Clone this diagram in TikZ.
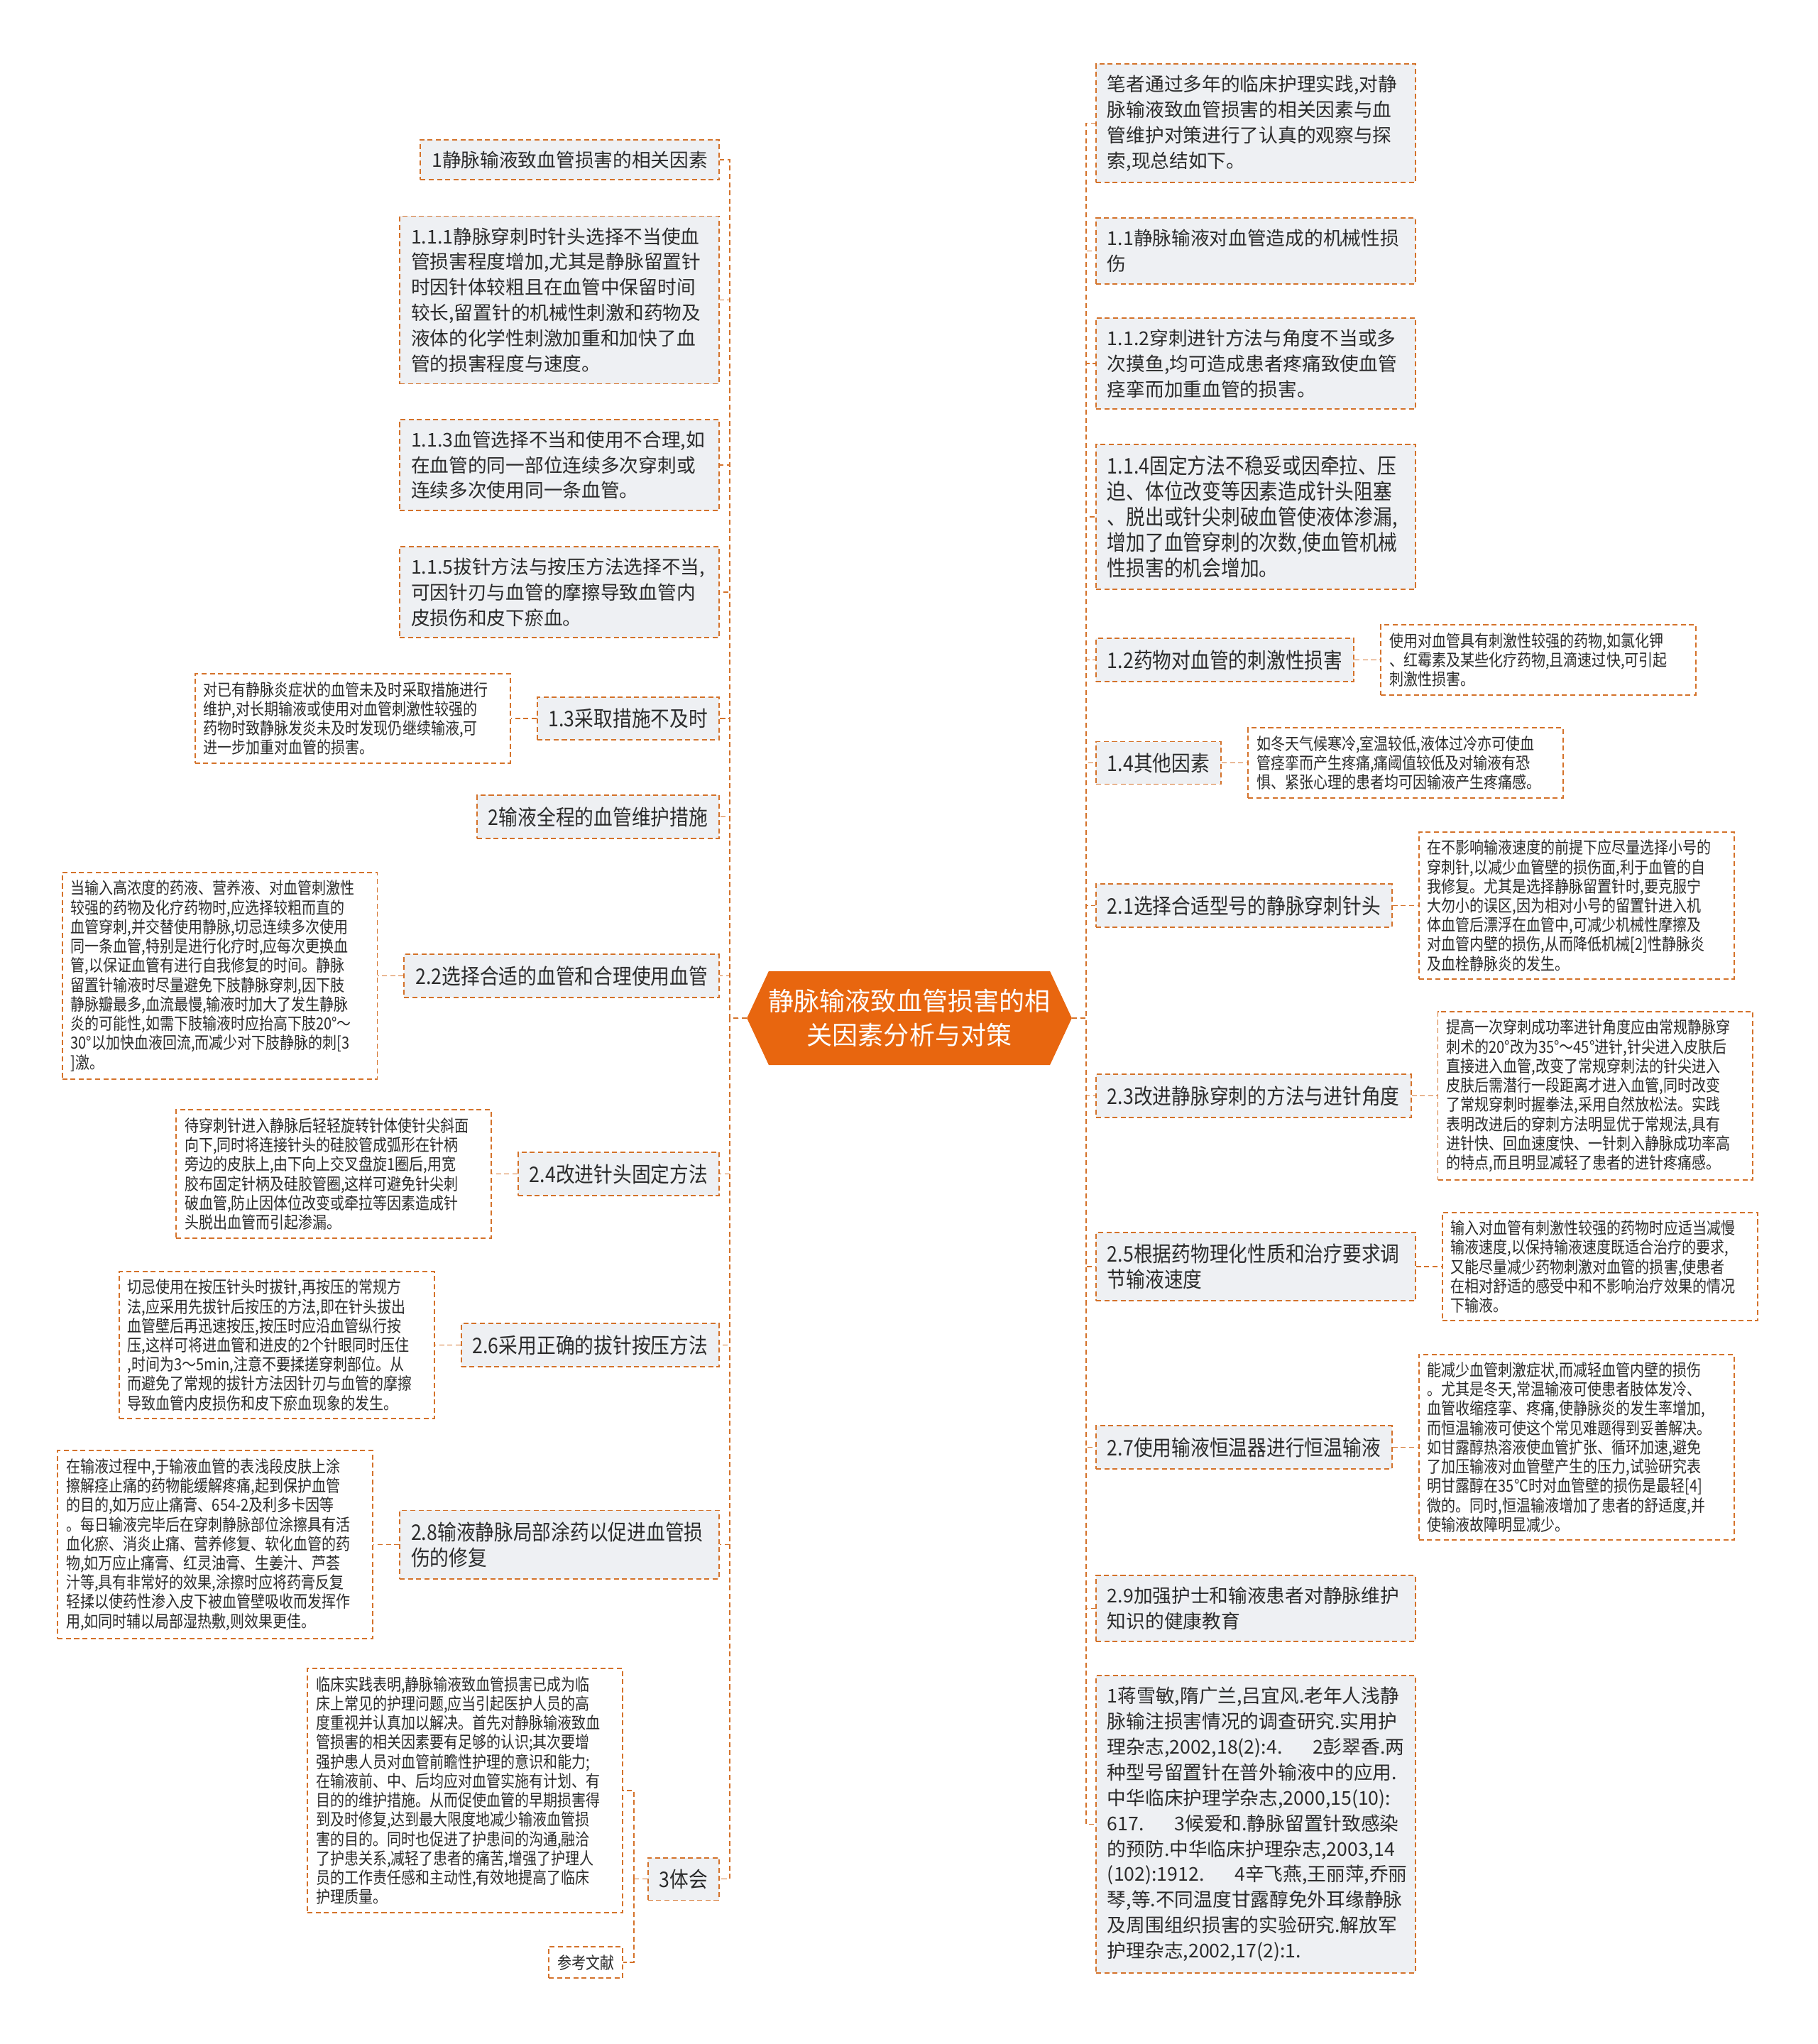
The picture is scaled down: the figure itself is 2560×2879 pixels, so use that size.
\documentclass[tikz,border=0pt]{standalone}
\usepackage{fontspec}
\setmainfont{Noto Sans CJK SC}
\newfontfamily\cjkn{Noto Sans CJK SC}
\newfontfamily\cjkc[FakeStretch=0.88]{Noto Sans CJK SC}
\newfontfamily\cjkp[FakeStretch=0.85]{Noto Sans CJK SC}
\usepackage{tikz}
\usetikzlibrary{positioning,shapes.symbols}

\definecolor{bordo}{HTML}{D4722A}
\definecolor{grigio}{HTML}{EEF0F3}
\definecolor{arancio}{HTML}{E8660F}
\definecolor{testo}{HTML}{2B2B2B}

\begin{document}
\begin{tikzpicture}[
                x=0.02cm, y=-0.02cm,
                % Stile comune dei riquadri tratteggiati
                riquadro/.style={
                    draw=bordo,
                    line width=1.1pt,
                    dash pattern=on 4pt off 2.6pt,
                    text=testo,
                    inner xsep=0.32cm,
                    inner ysep=0.32cm,
                    align=left
                },
                % Riquadri grigi dei rami principali
                nodo/.style={riquadro, fill=grigio, font=\cjkn\fontsize{15.2pt}{20.4pt}\selectfont},
                nodostretto/.style={riquadro, fill=grigio, font=\cjkc\fontsize{17.3pt}{20.4pt}\selectfont},
                largo/.style={text width=8.36cm},
                % Note bianche con testo piccolo
                nota/.style={
                    riquadro,
                    fill=white,
                    inner xsep=0.24cm,
                    inner ysep=0.22cm,
                    text width=8.4cm,
                    font=\cjkp\fontsize{13.4pt}{15.5pt}\selectfont
                },
                % Blocco centrale arancione
                centro/.style={
                    signal,
                    signal to=west and east,
                    signal pointer angle=130,
                    fill=arancio,
                    text=white,
                    align=center,
                    inner xsep=0pt,
                    minimum width=8.6cm,
                    minimum height=2.64cm,
                    font=\cjkn\fontsize{20.5pt}{27.3pt}\selectfont
                },
                % Collegamenti tratteggiati
                ramo/.style={draw=bordo, line width=1.1pt, dash pattern=on 4pt off 2.6pt}
            ]

                \path[use as bounding box, fill=white] (0,0) rectangle (2560,2879);

                % 1. Nodo centrale
                \node [centro] (ctr) at (1281,1434) {静脉输液致血管损害的相\\关因素分析与对策};

                % 2. Rami di sinistra
                \node [nodo, anchor=east] (L1) at (1014,225) {1静脉输液致血管损害的相关因素};
                \node [nodo, largo, anchor=east] (L111) at (1014,422.5) {1.1.1静脉穿刺时针头选择不当使血\\管损害程度增加,尤其是静脉留置针\\时因针体较粗且在血管中保留时间\\较长,留置针的机械性刺激和药物及\\液体的化学性刺激加重和加快了血\\管的损害程度与速度。};
                \node [nodo, largo, anchor=east] (L113) at (1014,655) {1.1.3血管选择不当和使用不合理,如\\在血管的同一部位连续多次穿刺或\\连续多次使用同一条血管。};
                \node [nodo, largo, anchor=east] (L115) at (1014,834) {1.1.5拔针方法与按压方法选择不当,\\可因针刃与血管的摩擦导致血管内\\皮损伤和皮下瘀血。};
                \node [nodostretto, anchor=east] (L13) at (1014,1012) {1.3采取措施不及时};
                \node [nodostretto, anchor=east] (L2) at (1014,1150.5) {2输液全程的血管维护措施};
                \node [nodostretto, anchor=east] (L22) at (1014,1374.5) {2.2选择合适的血管和合理使用血管};
                \node [nodostretto, anchor=east] (L24) at (1014,1653.5) {2.4改进针头固定方法};
                \node [nodostretto, anchor=east] (L26) at (1014,1894.5) {2.6采用正确的拔针按压方法};
                \node [nodostretto, largo, anchor=east] (L28) at (1014,2175.5) {2.8输液静脉局部涂药以促进血管损\\伤的修复};
                \node [nodostretto, anchor=east] (L3) at (1014,2646.5) {3体会};

                % 3. Note di sinistra
                \node [nota, left=0.72cm of L13] (S13) {对已有静脉炎症状的血管未及时采取措施进行\\维护,对长期输液或使用对血管刺激性较强的\\药物时致静脉发炎未及时发现仍继续输液,可\\进一步加重对血管的损害。};
                \node [nota, left=0.72cm of L22] (S22) {当输入高浓度的药液、营养液、对血管刺激性\\较强的药物及化疗药物时,应选择较粗而直的\\血管穿刺,并交替使用静脉,切忌连续多次使用\\同一条血管,特别是进行化疗时,应每次更换血\\管,以保证血管有进行自我修复的时间。静脉\\留置针输液时尽量避免下肢静脉穿刺,因下肢\\静脉瓣最多,血流最慢,输液时加大了发生静脉\\炎的可能性,如需下肢输液时应抬高下肢20°～\\30°以加快血液回流,而减少对下肢静脉的刺[3\\]激。};
                \node [nota, left=0.72cm of L24] (S24) {待穿刺针进入静脉后轻轻旋转针体使针尖斜面\\向下,同时将连接针头的硅胶管成弧形在针柄\\旁边的皮肤上,由下向上交叉盘旋1圈后,用宽\\胶布固定针柄及硅胶管圈,这样可避免针尖刺\\破血管,防止因体位改变或牵拉等因素造成针\\头脱出血管而引起渗漏。};
                \node [nota, left=0.72cm of L26] (S26) {切忌使用在按压针头时拔针,再按压的常规方\\法,应采用先拔针后按压的方法,即在针头拔出\\血管壁后再迅速按压,按压时应沿血管纵行按\\压,这样可将进血管和进皮的2个针眼同时压住\\,时间为3～5min,注意不要揉搓穿刺部位。从\\而避免了常规的拔针方法因针刃与血管的摩擦\\导致血管内皮损伤和皮下瘀血现象的发生。};
                \node [nota, left=0.72cm of L28] (S28) {在输液过程中,于输液血管的表浅段皮肤上涂\\擦解痉止痛的药物能缓解疼痛,起到保护血管\\的目的,如万应止痛膏、654-2及利多卡因等\\。每日输液完毕后在穿刺静脉部位涂擦具有活\\血化瘀、消炎止痛、营养修复、软化血管的药\\物,如万应止痛膏、红灵油膏、生姜汁、芦荟\\汁等,具有非常好的效果,涂擦时应将药膏反复\\轻揉以使药性渗入皮下被血管壁吸收而发挥作\\用,如同时辅以局部湿热敷,则效果更佳。};
                \node [nota, anchor=east] (S3a) at (878,2522) {临床实践表明,静脉输液致血管损害已成为临\\床上常见的护理问题,应当引起医护人员的高\\度重视并认真加以解决。首先对静脉输液致血\\管损害的相关因素要有足够的认识;其次要增\\强护患人员对血管前瞻性护理的意识和能力;\\在输液前、中、后均应对血管实施有计划、有\\目的的维护措施。从而促使血管的早期损害得\\到及时修复,达到最大限度地减少输液血管损\\害的目的。同时也促进了护患间的沟通,融洽\\了护患关系,减轻了患者的痛苦,增强了护理人\\员的工作责任感和主动性,有效地提高了临床\\护理质量。};
                \node [nota, text width=1.6cm, anchor=east] (S3b) at (878,2764) {参考文献};

                % 4. Rami di destra
                \node [nodo, largo, anchor=west] (R0) at (1543,173.5) {笔者通过多年的临床护理实践,对静\\脉输液致血管损害的相关因素与血\\管维护对策进行了认真的观察与探\\索,现总结如下。};
                \node [nodo, largo, anchor=west] (R11) at (1543,353.5) {1.1静脉输液对血管造成的机械性损\\伤};
                \node [nodo, largo, anchor=west] (R112) at (1543,512) {1.1.2穿刺进针方法与角度不当或多\\次摸鱼,均可造成患者疼痛致使血管\\痉挛而加重血管的损害。};
                \node [nodostretto, largo, anchor=west] (R114) at (1543,728) {1.1.4固定方法不稳妥或因牵拉、压\\迫、体位改变等因素造成针头阻塞\\、脱出或针尖刺破血管使液体渗漏,\\增加了血管穿刺的次数,使血管机械\\性损害的机会增加。};
                \node [nodostretto, anchor=west] (R12) at (1543,929.5) {1.2药物对血管的刺激性损害};
                \node [nodostretto, anchor=west] (R14) at (1543,1074.5) {1.4其他因素};
                \node [nodostretto, anchor=west] (R21) at (1543,1275.5) {2.1选择合适型号的静脉穿刺针头};
                \node [nodostretto, anchor=west] (R23) at (1543,1543.5) {2.3改进静脉穿刺的方法与进针角度};
                \node [nodostretto, largo, anchor=west] (R25) at (1543,1784) {2.5根据药物理化性质和治疗要求调\\节输液速度};
                \node [nodostretto, anchor=west] (R27) at (1543,2038.5) {2.7使用输液恒温器进行恒温输液};
                \node [nodo, largo, anchor=west] (R29) at (1543,2265.5) {2.9加强护士和输液患者对静脉维护\\知识的健康教育};
                \node [nodo, largo, anchor=west] (Rref) at (1543,2569.5) {1蒋雪敏,隋广兰,吕宜风.老年人浅静\\脉输注损害情况的调查研究.实用护\\理杂志,2002,18(2):4.\kern1.6em 2彭翠香.两\\种型号留置针在普外输液中的应用.\\中华临床护理学杂志,2000,15(10):\\617.\kern1.6em 3候爱和.静脉留置针致感染\\的预防.中华临床护理杂志,2003,14\\(102):1912.\kern1.6em 4辛飞燕,王丽萍,乔丽\\琴,等.不同温度甘露醇免外耳缘静脉\\及周围组织损害的实验研究.解放军\\护理杂志,2002,17(2):1.};

                % 5. Note di destra
                \node [nota, right=0.72cm of R12] (S12) {使用对血管具有刺激性较强的药物,如氯化钾\\、红霉素及某些化疗药物,且滴速过快,可引起\\刺激性损害。};
                \node [nota, right=0.72cm of R14] (S14) {如冬天气候寒冷,室温较低,液体过冷亦可使血\\管痉挛而产生疼痛,痛阈值较低及对输液有恐\\惧、紧张心理的患者均可因输液产生疼痛感。};
                \node [nota, right=0.72cm of R21] (S21) {在不影响输液速度的前提下应尽量选择小号的\\穿刺针,以减少血管壁的损伤面,利于血管的自\\我修复。尤其是选择静脉留置针时,要克服宁\\大勿小的误区,因为相对小号的留置针进入机\\体血管后漂浮在血管中,可减少机械性摩擦及\\对血管内壁的损伤,从而降低机械[2]性静脉炎\\及血栓静脉炎的发生。};
                \node [nota, right=0.72cm of R23] (S23) {提高一次穿刺成功率进针角度应由常规静脉穿\\刺术的20°改为35°～45°进针,针尖进入皮肤后\\直接进入血管,改变了常规穿刺法的针尖进入\\皮肤后需潜行一段距离才进入血管,同时改变\\了常规穿刺时握拳法,采用自然放松法。实践\\表明改进后的穿刺方法明显优于常规法,具有\\进针快、回血速度快、一针刺入静脉成功率高\\的特点,而且明显减轻了患者的进针疼痛感。};
                \node [nota, right=0.72cm of R25] (S25) {输入对血管有刺激性较强的药物时应适当减慢\\输液速度,以保持输液速度既适合治疗的要求,\\又能尽量减少药物刺激对血管的损害,使患者\\在相对舒适的感受中和不影响治疗效果的情况\\下输液。};
                \node [nota, right=0.72cm of R27] (S27) {能减少血管刺激症状,而减轻血管内壁的损伤\\。尤其是冬天,常温输液可使患者肢体发冷、\\血管收缩痉挛、疼痛,使静脉炎的发生率增加,\\而恒温输液可使这个常见难题得到妥善解决。\\如甘露醇热溶液使血管扩张、循环加速,避免\\了加压输液对血管壁产生的压力,试验研究表\\明甘露醇在35°C时对血管壁的损伤是最轻[4]\\微的。同时,恒温输液增加了患者的舒适度,并\\使输液故障明显减少。};

                % 6. Collegamenti a sinistra
                \draw [ramo] (ctr.west) -- ++(-24,0) |- (L1.east);
                \draw [ramo] (ctr.west) -- ++(-24,0) |- (L111.east);
                \draw [ramo] (ctr.west) -- ++(-24,0) |- (L113.east);
                \draw [ramo] (ctr.west) -- ++(-24,0) |- (L115.east);
                \draw [ramo] (ctr.west) -- ++(-24,0) |- (L13.east);
                \draw [ramo] (ctr.west) -- ++(-24,0) |- (L2.east);
                \draw [ramo] (ctr.west) -- ++(-24,0) |- (L22.east);
                \draw [ramo] (ctr.west) -- ++(-24,0) |- (L24.east);
                \draw [ramo] (ctr.west) -- ++(-24,0) |- (L26.east);
                \draw [ramo] (ctr.west) -- ++(-24,0) |- (L28.east);
                \draw [ramo] (ctr.west) -- ++(-24,0) |- (L3.east);
                \draw [ramo] (L13.west) -- (S13.east);
                \draw [ramo] (L22.west) -- (S22.east);
                \draw [ramo] (L24.west) -- (S24.east);
                \draw [ramo] (L26.west) -- (S26.east);
                \draw [ramo] (L28.west) -- (S28.east);
                \draw [ramo] (L3.west) -- ++(-19,0) coordinate (giunto);
                \draw [ramo] (giunto) |- (S3a.east);
                \draw [ramo] (giunto) |- (S3b.east);

                % 7. Collegamenti a destra
                \draw [ramo] (ctr.east) -- ++(20,0) |- (R0.west);
                \draw [ramo] (ctr.east) -- ++(20,0) |- (R11.west);
                \draw [ramo] (ctr.east) -- ++(20,0) |- (R112.west);
                \draw [ramo] (ctr.east) -- ++(20,0) |- (R114.west);
                \draw [ramo] (ctr.east) -- ++(20,0) |- (R12.west);
                \draw [ramo] (ctr.east) -- ++(20,0) |- (R14.west);
                \draw [ramo] (ctr.east) -- ++(20,0) |- (R21.west);
                \draw [ramo] (ctr.east) -- ++(20,0) |- (R23.west);
                \draw [ramo] (ctr.east) -- ++(20,0) |- (R25.west);
                \draw [ramo] (ctr.east) -- ++(20,0) |- (R27.west);
                \draw [ramo] (ctr.east) -- ++(20,0) |- (R29.west);
                \draw [ramo] (ctr.east) -- ++(20,0) |- (Rref.west);
                \draw [ramo] (R12.east) -- (S12.west);
                \draw [ramo] (R14.east) -- (S14.west);
                \draw [ramo] (R21.east) -- (S21.west);
                \draw [ramo] (R23.east) -- (S23.west);
                \draw [ramo] (R25.east) -- (S25.west);
                \draw [ramo] (R27.east) -- (S27.west);

            \end{tikzpicture}
\end{document}
